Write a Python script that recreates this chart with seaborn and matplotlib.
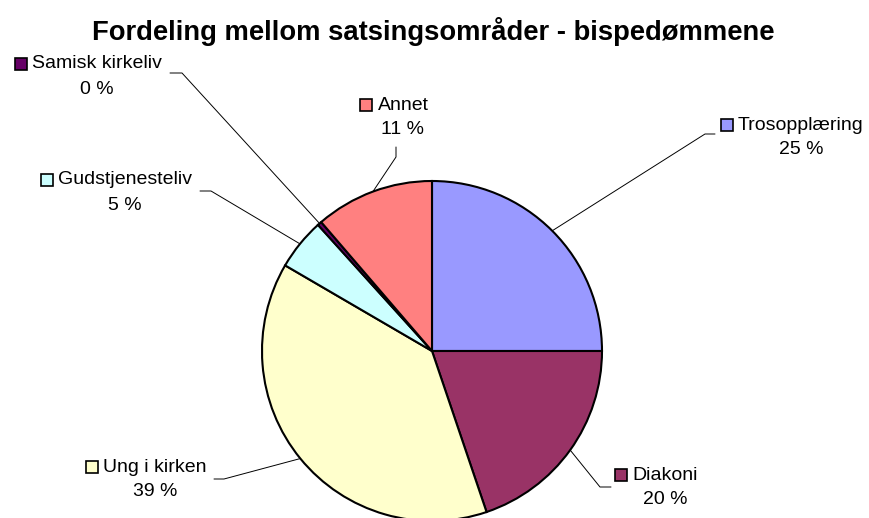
import matplotlib
matplotlib.use('Agg')
import matplotlib.pyplot as plt
from matplotlib.patches import Rectangle
import numpy as np
import seaborn as sns

sns.set_style('white')
plt.rcParams['font.family'] = ['Liberation Sans', 'DejaVu Sans']
plt.rcParams['text.color'] = 'black'

# data (share in %, clockwise from 12 o'clock)
categories = ['Trosopplæring', 'Diakoni', 'Ung i kirken', 'Gudstjenesteliv', 'Samisk kirkeliv', 'Annet']
shares = [25.0, 19.8, 38.6, 4.9, 0.4, 11.3]
colors = ['#9999FF', '#993366', '#FFFFCC', '#CCFFFF', '#660066', '#FF8080']
title = 'Fordeling mellom satsingsområder - bispedømmene'

# layout in pixels (from top-left)
W, H = 870, 518
label_pos = {  # centre x of text, y of name line
    'Trosopplæring': (801, 125),
    'Diakoni': (665, 475),
    'Ung i kirken': (155, 467),
    'Gudstjenesteliv': (125, 180),
    'Samisk kirkeliv': (97, 64),
    'Annet': (403, 105),
}
leader = {  # start of leader, elbow
    'Trosopplæring': ((715, 134), (705, 134)),
    'Diakoni': ((611, 487), (600, 487)),
    'Ung i kirken': ((214, 479), (224, 479)),
    'Gudstjenesteliv': ((200, 191), (211, 191)),
    'Samisk kirkeliv': ((170, 73), (182, 73)),
    'Annet': ((396, 147), (396, 157)),
}


def py(y):
    return H - y


fig = plt.figure(figsize=(8.7, 5.18), dpi=100)
ax = fig.add_axes([0, 0, 1, 1])

cx, cy, r = 432, py(351), 170
wedges, _ = ax.pie(shares, colors=colors, startangle=90, counterclock=False,
                   center=(cx, cy), radius=r,
                   wedgeprops=dict(edgecolor='black', linewidth=1.5))
ax.set_xlim(0, W)
ax.set_ylim(0, H)
ax.set_aspect('auto')
ax.axis('off')

fig.text(433 / W, 1 - 32 / H, title, ha='center', va='center',
         fontsize=19.7, fontweight='bold')

name_texts = []
for w, cat, val in zip(wedges, categories, shares):
    lx, ly = label_pos[cat]
    t = ax.text(lx, py(ly), cat, ha='center', va='center', fontsize=14)
    name_texts.append((t, w))
    ax.text(lx, py(ly + 25), f'{round(val):.0f} %', ha='center', va='center', fontsize=14)
    theta = np.deg2rad((w.theta1 + w.theta2) / 2)
    ex, ey = cx + r * np.cos(theta), cy + r * np.sin(theta)
    (sx, sy), (bx, by) = leader[cat]
    ax.plot([sx, bx, ex], [py(sy), py(by), ey], color='black', lw=0.7)

fig.canvas.draw()
renderer = fig.canvas.get_renderer()
for t, w in name_texts:
    bb = t.get_window_extent(renderer)
    yc = t.get_position()[1]
    s = 12
    ax.add_patch(Rectangle((bb.x0 - 5 - s, yc - s / 2), s, s,
                           facecolor=w.get_facecolor(), edgecolor='black', lw=1.2))

fig.savefig('out.png', dpi=100)
